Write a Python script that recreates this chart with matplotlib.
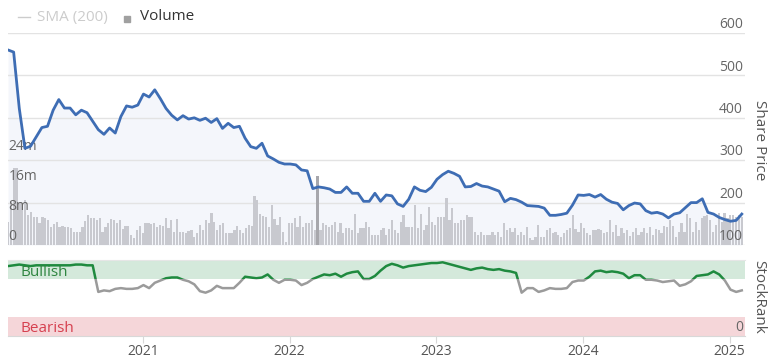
import numpy as np
import pandas as pd
import matplotlib.pyplot as plt
import matplotlib.transforms as mtransforms
from matplotlib.patches import Rectangle
from matplotlib.lines import Line2D

plt.rcParams['font.family'] = ['Open Sans', 'DejaVu Sans']

# Weekly-ish data, Jan 2020 - Jan 2025
start, end = '2020-01-31', '2025-01-31'

share_price = [
    560, 555, 422, 328, 333, 355, 377, 380, 418, 443, 423, 423, 407, 418, 412, 392,
    372, 361, 376, 364, 403, 428, 425, 430, 456, 449, 466, 445, 422, 406, 395, 405,
    397, 400, 394, 399, 389, 398, 375, 387, 377, 380, 352, 332, 328, 340, 310, 303,
    295, 291, 291, 289, 277, 275, 233, 237, 235, 232, 224, 224, 237, 222, 222, 203,
    203, 222, 203, 218, 216, 197, 191, 208, 237, 229, 226, 236, 255, 266, 274, 269,
    262, 237, 238, 245, 239, 237, 232, 227, 202, 210, 207, 201, 193, 192, 191, 187,
    170, 170, 172, 175, 194, 218, 217, 219, 213, 219, 208, 201, 198, 183, 193, 199,
    197, 181, 175, 177, 173, 164, 173, 176, 188, 200, 200, 209, 177, 173, 165, 160,
    156, 158, 173,
]

stock_rank = [
    92, 93, 94, 93, 92, 93, 93, 93, 93, 93, 93, 93, 94, 94, 93, 93,
    58, 60, 59, 62, 63, 62, 62, 63, 67, 63, 70, 73, 76, 77, 77, 74,
    72, 68, 59, 57, 60, 66, 63, 63, 63, 70, 78, 77, 76, 77, 81, 74,
    70, 74, 74, 73, 67, 70, 75, 78, 81, 80, 82, 78, 82, 84, 85, 75,
    75, 79, 86, 92, 95, 93, 90, 92, 93, 94, 95, 96, 96, 97, 95, 93,
    91, 89, 87, 89, 90, 88, 87, 88, 86, 85, 83, 57, 63, 63, 58, 60,
    63, 62, 62, 63, 71, 73, 73, 78, 85, 86, 84, 85, 84, 82, 76, 80,
    80, 74, 74, 73, 71, 72, 73, 66, 68, 72, 79, 80, 81, 85, 81, 73,
    61, 58, 60,
]

# volume in millions
volume_m = [
    6.1, 11.5, 20.5, 20.5, 11.5, 11, 12, 8, 8.8, 7.5,
    7.5, 5.8, 7.5, 7.2, 6.7, 4.9, 5.5, 6.1, 4.9, 5.1, 4.9,
    4.9, 4.5, 3.5, 3.5, 3.5, 4.9, 6.5, 8, 7.2, 7.2, 6.7,
    7.2, 3.5, 4.9, 5.9, 6.9, 6.7, 5.9, 6.7, 4.2, 5.1, 5.1,
    2.7, 1.9, 4, 5.1, 3.2, 5.9, 5.9, 5.5, 5.9, 4.9, 5.3,
    5.1, 7.2, 4.5, 6.7, 3.5, 6.9, 3.5, 3.5, 3.2, 3.8, 4,
    2.1, 3.2, 5.3, 4, 6.7, 5.9, 8.5, 6, 4, 5.3, 5.9,
    3.2, 3.2, 3.2, 4, 5.1, 4, 3.2, 4.5, 5.3, 5.1, 13, 12,
    8.3, 7.8, 7.5, 4.8, 10.7, 6.9, 5.3, 7.5, 3.5, 0.8,
    5.9, 5.9, 7.2, 4.8, 7.7, 4.8, 5.9, 5.9, 6.7, 4,
    18.4, 4, 5.9, 5.3, 4.8, 5.3, 6.1, 3.5, 5.9, 3.2,
    4.5, 4.5, 4, 8.3, 3.2, 4.5, 4.5, 6.1, 4.8, 2.7,
    2.7, 2.7, 4, 4.5, 2.7, 4.3, 6.7, 4, 3.2, 6.1,
    8, 4.8, 4.8, 4.8, 10.7, 4.5, 8.3, 4, 5.3, 10,
    6.1, 5.3, 7.5, 7.5, 7.5, 12.5, 6.7, 9.8, 5.9, 5.9,
    6.7, 6.7, 8, 7.5, 7.5, 3.5, 2.7, 3.5, 2.7, 2.7,
    2.7, 3.5, 2.7, 3.5, 2.1, 5.9, 4, 4.5, 3.5, 4.5,
    2.7, 3.5, 2.7, 4.8, 1.9, 1.3, 2.1, 5.3, 2.1, 2.1,
    4, 4.5,
    3.2, 3.5, 2.7, 2.1, 3.2, 4,
    4.5, 8, 4.3, 3.5, 5.9, 4.5, 3.2, 2.7, 4, 4,
    4.3, 4, 3.2, 3.5, 6.7, 3.5, 5.3, 2.4, 4.5, 3.2,
    4, 2.4, 3.5, 4.5, 2.7, 3.5, 4.5, 3.2, 4.8, 2.7,
    4.3, 4, 3.2, 5.1, 4.8, 6.7, 5.1, 2.1, 3.5, 5.9,
    3.5, 8.3, 7.2, 3.5, 6.1, 4, 7.2, 7.7, 8, 6.7,
    3.5, 5.3, 8.5, 6.1, 8.5, 7.2, 8, 8, 7.5, 8, 7.5,
]
highlighted_bar = 108

year_ticks = ['2021', '2022', '2023', '2024', '2025']
price_ticks = [100, 200, 300, 400, 500, 600]
volume_ticks = [0, 8, 16, 24]
volume_labels = ['0', '8m', '16m', '24m']

price_dates = pd.date_range(start, end, periods=len(share_price))
rank_dates = pd.date_range(start, end, periods=len(stock_rank))
vol_dates = pd.date_range(start, end, periods=len(volume_m))

W, H = 769, 359
fig = plt.figure(figsize=(W / 100, H / 100), dpi=100)

# top panel: three stacked axes (fill, volume bars, price line)
ax_fill = fig.add_axes([8 / W, 114 / H, 737 / W, 212 / H])
ax_vol = ax_fill.twinx()
ax_line = ax_fill.twinx()

ax_fill.fill_between(price_dates, share_price, 100, color='#f4f6fb', lw=0)
ax_fill.set_ylim(100, 600)
ax_fill.set_yticks(price_ticks)
ax_fill.grid(axis='y', color='#e3e3e3', lw=1)
ax_fill.set_axisbelow(False)

bar_colors = ['#c8c9cf'] * len(volume_m)
bar_colors[highlighted_bar] = '#a7a7ac'
ax_vol.bar(vol_dates, volume_m, width=pd.Timedelta(days=5.5), color=bar_colors, lw=0)
ax_vol.set_ylim(0, 56.5)

ax_line.plot(price_dates, share_price, color='#3e6db4', lw=2.0, solid_joinstyle='round')
ax_line.set_ylim(100, 600)

xlim = (pd.Timestamp('2020-01-31'), pd.Timestamp('2025-02-08'))
for a in (ax_fill, ax_vol, ax_line):
    a.set_xlim(*xlim)
    a.tick_params(left=False, right=False, bottom=False, labelleft=False,
                  labelright=False, labelbottom=False)
    for s in a.spines.values():
        s.set_visible(False)

for p in price_ticks:
    ax_line.annotate(str(p), xy=(1, p), xycoords=ax_line.get_yaxis_transform(),
                     xytext=(-1.5, 6), textcoords='offset points',
                     ha='right', va='center', fontsize=10, color='#666666')
for v, lab in zip(volume_ticks, volume_labels):
    ax_vol.annotate(lab, xy=(0, v), xycoords=ax_vol.get_yaxis_transform(),
                    xytext=(0.5, 6), textcoords='offset points',
                    ha='left', va='center', fontsize=10, color='#666666')

# bottom panel: StockRank
ax_rank = fig.add_axes([8 / W, 23 / H, 737 / W, 76 / H])
ax_rank.set_xlim(*xlim)
ax_rank.set_ylim(0, 100)
ax_rank.axhspan(75, 100, color='#d4e9db', lw=0)
ax_rank.axhspan(0, 25, color='#f5d6d9', lw=0)

trans = mtransforms.blended_transform_factory(ax_rank.transAxes, ax_rank.transData)
grey_line, = ax_rank.plot(rank_dates, stock_rank, color='#9b9b9b', lw=1.8)
green_line, = ax_rank.plot(rank_dates, stock_rank, color='#1f8a3f', lw=1.8)
grey_line.set_clip_path(Rectangle((0, -100), 1, 175, transform=trans))
green_line.set_clip_path(Rectangle((0, 75), 1, 100, transform=trans))

ax_rank.text(0.017, 84, 'Bullish', transform=trans, fontsize=11,
             color='#2e8540', va='center', ha='left')
ax_rank.text(0.017, 10, 'Bearish', transform=trans, fontsize=11,
             color='#d6404f', va='center', ha='left')
ax_rank.annotate('0', xy=(1, 0), xycoords=ax_rank.get_yaxis_transform(),
                 xytext=(-1.5, 6), textcoords='offset points',
                 ha='right', va='center', fontsize=10, color='#666666')

ax_rank.set_yticks([])
ax_rank.set_xticks(pd.to_datetime([f'{y}-01-01' for y in year_ticks]))
ax_rank.set_xticklabels(year_ticks)
ax_rank.tick_params(axis='x', length=5, color='#d8d8d8', labelsize=10,
                    labelcolor='#555555', pad=0.5)
for s in ('left', 'right'):
    ax_rank.spines[s].set_visible(False)
ax_rank.spines['bottom'].set_color('#d8d8d8')
ax_rank.spines['top'].set_color('#e6e6e6')

# axis titles
fig.text(760 / W, 1 - 140 / H, 'Share Price', rotation=270, ha='center',
         va='center', fontsize=11, color='#555555')
fig.text(759 / W, 1 - 297 / H, 'StockRank', rotation=270, ha='center',
         va='center', fontsize=11, color='#555555')

# legend
fig.add_artist(Line2D([18 / W, 30 / W], [1 - 17 / H] * 2, color='#cccccc', lw=1))
fig.text(37 / W, 1 - 17 / H, 'SMA (200)', fontsize=11, color='#cccccc', va='center')
fig.add_artist(Rectangle((124 / W, 1 - 22 / H), 6 / W, 6 / H, color='#a0a0a0',
                         transform=fig.transFigure))
fig.text(140 / W, 1 - 17 / H, 'Volume', fontsize=11, color='#333333', va='center')

fig.savefig('out.png', dpi=100)
